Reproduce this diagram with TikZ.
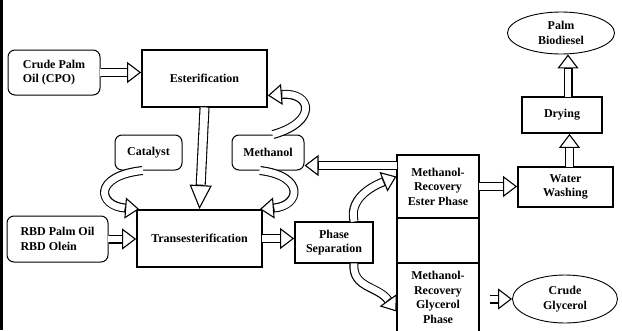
\documentclass[tikz,border=0pt]{standalone}
\usepackage{fontspec}
\setmainfont{Liberation Serif}
\usetikzlibrary{arrows.meta,shapes.geometric}
\begin{document}
\begin{tikzpicture}[x=1pt,y=-1pt,
  every node/.style={font=\fontsize{12}{14.5}\selectfont\bfseries, inner sep=0pt, align=center},
  roundbox/.style={draw, line width=1pt, rounded corners=7pt},
  procbox/.style={draw, line width=1.8pt},
  plainbox/.style={draw, line width=1.2pt},
  oval/.style={draw, ellipse, line width=0.9pt},
  % hollow block arrow: a wide black stroke, hollowed out by a white one
  flow/.style={line width=9pt,
    -{Triangle[open, length=14pt, width=21pt, line width=1.1pt, fill=white]},
    postaction={draw=white, line width=6.8pt, -, shorten >=14.5pt, shorten <=-0.5pt}},
  longflow/.style={line width=10pt,
    -{Triangle[open, length=24pt, width=22pt, line width=1.1pt, fill=white]},
    postaction={draw=white, line width=7.8pt, -, shorten >=24.5pt, shorten <=-0.5pt}},
]
\useasboundingbox (0,0) rectangle (622,330);
% frame edge on the left
\draw[line width=2.5pt] (1.5,0) -- (1.5,330);

% process boxes
\node[roundbox, minimum width=92pt, minimum height=45pt, align=left] (cpo) at (54,72.5) {Crude Palm\\Oil (CPO)};
\node[procbox, minimum width=125pt, minimum height=57pt] (est) at (204.5,78.5) {Esterification};
\node[roundbox, minimum width=67pt, minimum height=35pt] (cat) at (148.5,152.5) {Catalyst};
\node[roundbox, minimum width=72pt, minimum height=35pt] (meth) at (268,152.5) {Methanol};
\node[procbox, minimum width=125pt, minimum height=57pt] (trans) at (199.5,238.5) {Transesterification};
\node[roundbox, minimum width=101pt, minimum height=46pt, align=left] (rbd) at (57.5,239) {RBD Palm Oil\\RBD Olein};
\node[procbox, minimum width=78pt, minimum height=41pt] (phase) at (334,242.5) {Phase\\Separation};

% methanol recovery column
\node[plainbox, minimum width=82pt, minimum height=63pt] (ester) at (438,186.5) {Methanol-\\Recovery\\Ester Phase};
\node[plainbox, minimum width=82pt, minimum height=45pt] (mid) at (438,240.5) {};
\node[plainbox, minimum width=82pt, minimum height=69pt] (glyc) at (438,297.5) {Methanol-\\Recovery\\Glycerol\\Phase};

% refining and products
\node[procbox, minimum width=95pt, minimum height=40pt] (wash) at (565.5,187) {Water\\Washing};
\node[procbox, minimum width=80pt, minimum height=36pt] (dry) at (562,115) {Drying};
\node[oval, minimum width=107pt, minimum height=42pt] (bio) at (561,33) {Palm\\Biodiesel};
\node[oval, minimum width=105pt, minimum height=48pt] (cg) at (565,299) {Crude\\Glycerol};

% straight flows
\draw[flow] (cpo.east) -- (cpo.east -| est.west);
\draw[longflow] (est.south) -- (trans.north);
\draw[flow] (rbd.east) -- (rbd.east -| trans.west);
\draw[flow] (trans.east) -- (trans.east -| phase.west);
\coordinate (methin) at ([yshift=-13pt]meth.east);
\draw[flow] (ester.west |- methin) -- (methin);
\draw[flow] (ester.east) -- (ester.east -| wash.west);
\draw[flow] ([xshift=4pt]wash.north) -- ([xshift=4pt]wash.north |- dry.south);
\draw[flow] ([xshift=6pt]dry.north) -- ([xshift=6pt]dry.north |- bio.south);
\draw[flow] ([xshift=10pt]glyc.east |- cg.west) -- (cg.west);

% curved flows
\draw[flow] ([xshift=-6pt]cat.south) .. controls (92,176) and (98,206) .. ([xshift=3pt]trans.north west);
\draw[flow] ([xshift=-8pt]meth.south) .. controls (306,176) and (300,206) .. ([xshift=-3pt]trans.north east);
\draw[flow] ([xshift=5pt]meth.north) .. controls (318,122) and (312,92) .. ([yshift=-17pt]est.east);
\draw[flow] ([xshift=20pt]phase.north) .. controls (348,196) and (378,184) .. ([yshift=10pt]ester.west);
\draw[flow] ([xshift=20pt]phase.south) .. controls (352,288) and (378,286) .. ([yshift=-14pt]glyc.west);
\end{tikzpicture}
\end{document}
